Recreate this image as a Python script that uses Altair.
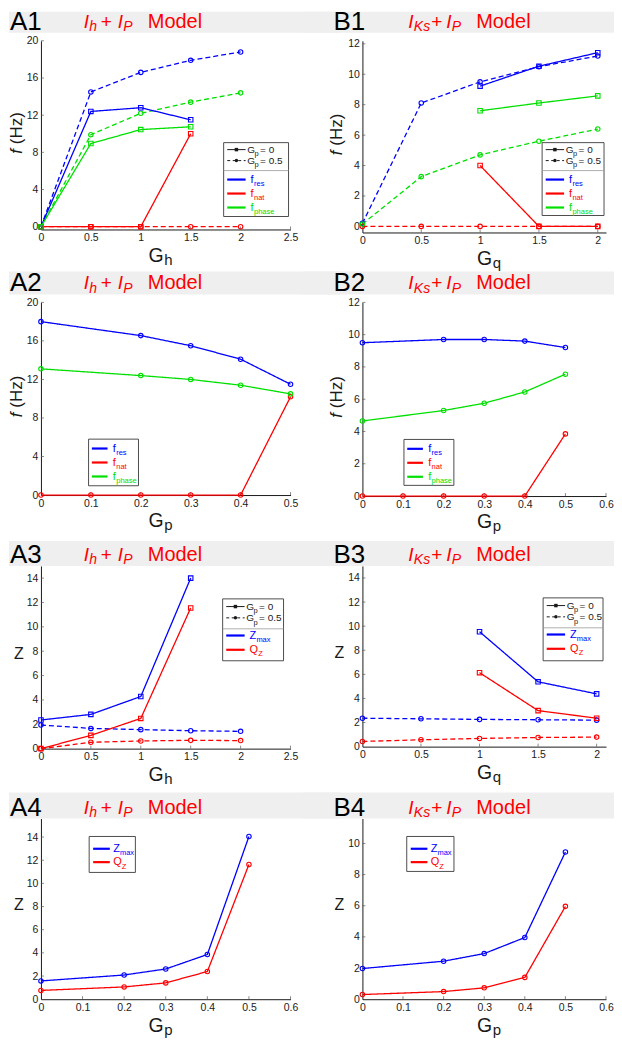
import altair as alt
import pandas as pd

FONT = "Liberation Sans"
BLUE = "#0000FF"
RED = "#FF0000"
GREEN = "#00E000"
BAND = "#EFEFEF"
INK = "#1A1A1A"

# ---------------- data ----------------
GH = [0, 0.5, 1, 1.5, 2]
GQ = [0, 0.5, 1, 1.5, 2]
GQ_HI = [1, 1.5, 2]
GP5 = [0, 0.2, 0.3, 0.4, 0.5]
GP6 = [0, 0.1, 0.2, 0.3, 0.4, 0.5]

A1_FRES_0 = [0, 12.4, 12.8, 11.5]
A1_FRES_05 = [0, 14.5, 16.6, 17.9, 18.8]
A1_FNAT_0 = [0, 0, 0, 10.0]
A1_FNAT_05 = [0, 0, 0, 0, 0]
A1_FPHASE_0 = [0, 8.95, 10.45, 10.75]
A1_FPHASE_05 = [0, 9.9, 12.2, 13.4, 14.4]

B1_FRES_0 = [9.22, 10.53, 11.42]
B1_FRES_05 = [0.2, 8.11, 9.5, 10.5, 11.2]
B1_FNAT_0 = [4.0, 0, 0]
B1_FNAT_05 = [0, 0, 0, 0, 0]
B1_FPHASE_0 = [7.6, 8.11, 8.58]
B1_FPHASE_05 = [0.15, 3.27, 4.7, 5.6, 6.4]

A2_FRES = [18.0, 16.55, 15.5, 14.1, 11.5]
A2_FPHASE = [13.1, 12.4, 12.0, 11.4, 10.5]
A2_FNAT = [0, 0, 0, 0, 0, 10.2]

B2_FRES = [9.5, 9.7, 9.7, 9.6, 9.2]
B2_FPHASE = [4.65, 5.3, 5.75, 6.45, 7.55]
B2_FNAT = [0, 0, 0, 0, 0, 3.85]

A3_ZMAX_0 = [2.35, 2.81, 4.28, 14.0]
A3_ZMAX_05 = [1.94, 1.66, 1.56, 1.47, 1.42]
A3_QZ_0 = [0, 1.09, 2.48, 11.55]
A3_QZ_05 = [0, 0.52, 0.63, 0.68, 0.66]

B3_ZMAX_0 = [9.54, 5.38, 4.38]
B3_ZMAX_05 = [2.36, 2.31, 2.26, 2.23, 2.2]
B3_QZ_0 = [6.14, 2.99, 2.36]
B3_QZ_05 = [0.43, 0.57, 0.68, 0.76, 0.79]

A4_ZMAX = [1.58, 2.09, 2.61, 3.86, 14.05]
A4_QZ = [0.76, 1.06, 1.41, 2.39, 11.63]
B4_ZMAX = [1.97, 2.44, 2.93, 3.96, 9.45]
B4_QZ = [0.3, 0.49, 0.73, 1.4, 5.96]

# tick label values
X_G25 = [0, 0.5, 1, 1.5, 2, 2.5]
X_G2 = [0, 0.5, 1, 1.5, 2]
X_P5 = [0, 0.1, 0.2, 0.3, 0.4, 0.5]
X_P6 = [0, 0.1, 0.2, 0.3, 0.4, 0.5, 0.6]
Y_20 = [0, 4, 8, 12, 16, 20]
Y_12 = [0, 2, 4, 6, 8, 10, 12]
Y_14 = [0, 2, 4, 6, 8, 10, 12, 14]
Y_10 = [0, 2, 4, 6, 8, 10]

LABELS = ["A1", "B1", "A2", "B2", "A3", "B3", "A4", "B4"]

# ---------------- styling helpers ----------------
CSCALE = alt.Scale(domain=["fres", "fnat", "fphase", "zmax", "qz"],
                   range=[BLUE, RED, GREEN, BLUE, RED])
DSCALE = alt.Scale(domain=["s", "d"], range=[[1, 0], [5, 3]])
SSCALE = alt.Scale(domain=["square", "circle"], range=["square", "circle"])
COLORS = {"fres": BLUE, "fnat": RED, "fphase": GREEN, "zmax": BLUE, "qz": RED}
LEG_NAMES = {"fres": ("f", "res", 3.4), "fnat": ("f", "nat", 3.4),
             "fphase": ("f", "phase", 3.4), "zmax": ("Z", "max", 6.8),
             "qz": ("Q", "Z", 8.6)}

one = pd.DataFrame({"k": [0]})


def txt(s, x, y, size, color=INK, style="normal", align="left",
        baseline="alphabetic", angle=None):
    kw = dict(text=s, font=FONT, fontSize=size, color=color, fontStyle=style,
              align=align, baseline=baseline)
    if angle is not None:
        kw["angle"] = angle
    return alt.Chart(one).mark_text(**kw).encode(x=alt.value(x), y=alt.value(y))


def rule(x1, y1, x2, y2, color, width=1.0, dash=None):
    kw = dict(color=color, strokeWidth=width)
    if dash is not None:
        kw["strokeDash"] = dash
    return alt.Chart(one).mark_rule(**kw).encode(
        x=alt.value(x1), x2=alt.value(x2), y=alt.value(y1), y2=alt.value(y2))


def box(x1, y1, x2, y2, fill, stroke=None, sw=0.0):
    kw = dict(fill=fill)
    if stroke is not None:
        kw.update(stroke=stroke, strokeWidth=sw)
    return alt.Chart(one).mark_rect(**kw).encode(
        x=alt.value(x1), x2=alt.value(x2), y=alt.value(y1), y2=alt.value(y2))


def dot(x, y, shape, size):
    return alt.Chart(one).mark_point(shape=shape, filled=True, size=size,
                                     color=INK, opacity=1).encode(
        x=alt.value(x), y=alt.value(y))


def legend(x0, y0, bw, bh, style_rows, color_rows, sep=None, lx=(3.6, 22.0), tx=27.0):
    L = [box(x0, y0, x0 + bw, y0 + bh, "white", "#3a3a3a", 0.9)]
    if sep is not None:
        L.append(rule(x0, y0 + sep, x0 + bw, y0 + sep, "#9a9a9a", 0.8))
    for dy, dashed, shape, val in style_rows:
        yy = y0 + dy
        L.append(rule(x0 + lx[0], yy, x0 + lx[1], yy, INK, 1.0, [3, 2.5] if dashed else None))
        L.append(dot(x0 + (lx[0] + lx[1]) / 2, yy, shape, 12))
        L.append(txt("G", x0 + 23.7, yy + 3.5, 10))
        L.append(txt("p", x0 + 31.0, yy + 6.8, 7.5))
        L.append(txt("= " + val, x0 + 36.5, yy + 3.5, 10))
    for dy, key in color_rows:
        yy = y0 + dy
        main, sub, wm = LEG_NAMES[key]
        c = COLORS[key]
        L.append(rule(x0 + lx[0], yy, x0 + lx[1], yy, c, 2.2))
        L.append(txt(main, x0 + tx, yy + 3.2, 11, c))
        L.append(txt(sub, x0 + tx + wm, yy + 6.6, 7.5, c))
    return L


TITLE_A = [("I", 43, 19, True, False), ("h", 48.5, 14, True, True),
           ("+", 60, 19, False, False), ("I", 77, 19, True, False),
           ("P", 82.5, 14, True, True), ("Model", 107, 20, False, False)]
TITLE_B = [("I", 46, 19, True, False), ("Ks", 51.5, 14, True, True),
           ("+", 69, 19, False, False), ("I", 84, 19, True, False),
           ("P", 89.5, 14, True, True), ("Model", 114, 20, False, False)]


def panel(rows, xdom, ydom, xt, yt, w, h, side, label, band_tb, ylab, xsub, leg):
    xs = alt.Scale(domain=xdom, nice=False, zero=False)
    ys = alt.Scale(domain=ydom, nice=False, zero=False)
    xax = alt.Axis(values=xt, format=".2~f", title=None)
    yax = alt.Axis(values=yt, format=".2~f", title=None)
    X = alt.X("x:Q", scale=xs, axis=xax, title=None)
    Y = alt.Y("y:Q", scale=ys, axis=yax, title=None)

    recs = []
    for xv_list, yv_list, s, g, m in rows:
        for xv, yv in zip(xv_list, yv_list):
            recs.append({"x": xv, "y": yv, "s": s, "g": g, "m": m, "k": s + g})
    df = pd.DataFrame(recs)

    layers = []
    bt, bb = band_tb
    if side == "A":
        layers.append(box(-32, bt, 300, bb, BAND))
        layers.append(txt(label, -31, bb - 3, 26, "black"))
        pieces = TITLE_A
    else:
        layers.append(box(-60, bt, w + 8, bb, BAND))
        layers.append(txt(label, -29, bb - 3, 26, "black"))
        pieces = TITLE_B
    for s, dx, size, ital, sub in pieces:
        layers.append(txt(s, dx, bb - 1.5 if sub else bb - 5, size, RED,
                          "italic" if ital else "normal"))

    # small inward ticks
    ytk = pd.DataFrame({"y": [v for v in yt if v > ydom[0]]})
    layers.append(alt.Chart(ytk).mark_rule(color="#555555", strokeWidth=0.7).encode(
        y=Y, x=alt.value(0), x2=alt.value(3)))
    xtk = pd.DataFrame({"x": [v for v in xt if v > xdom[0]]})
    layers.append(alt.Chart(xtk).mark_rule(color="#555555", strokeWidth=0.7).encode(
        x=X, y=alt.value(h), y2=alt.value(h - 3)))

    base = alt.Chart(df)
    layers.append(base.mark_line(strokeWidth=1.3).encode(
        x=X, y=Y,
        color=alt.Color("s:N", scale=CSCALE, legend=None),
        strokeDash=alt.StrokeDash("g:N", scale=DSCALE, legend=None),
        detail="k:N"))
    layers.append(base.mark_point(filled=False, size=20, strokeWidth=1.1, opacity=1).encode(
        x=X, y=Y,
        color=alt.Color("s:N", scale=CSCALE, legend=None),
        shape=alt.Shape("m:N", scale=SSCALE, legend=None)))

    # y title
    if ylab == "f":
        xx = -23.5 if side == "A" else -25
        c = 0.49 * h
        layers.append(txt("f", xx, c + 20.5, 17, INK, "italic", "left", "middle", 270))
        layers.append(txt("(Hz)", xx, c + 11, 17, INK, "normal", "left", "middle", 270))
    else:
        xx = -22 if side == "A" else -23
        layers.append(txt("Z", xx, 0.48 * h, 16, INK, "normal", "center", "middle"))

    # x title with subscript
    gx = 123 if side == "A" else 130
    layers.append(txt("G", gx, h + 32.5, 19.5, INK, align="right"))
    layers.append(txt(xsub, gx + 0.5, h + 35.5, 15, INK))

    layers.extend(leg)
    return alt.layer(*layers).properties(width=w, height=h)


WA, WB = 250, 244
STYLE_ROWS_1 = [(7, False, "square", "0"), (18, True, "circle", "0.5")]
STYLE_ROWS_3 = [(7.7, False, "square", "0"), (19, True, "circle", "0.5")]
F_ROWS_1 = [(37, "fres"), (51, "fnat"), (65, "fphase")]
F_ROWS_2 = [(9.4, "fres"), (23.4, "fnat"), (37.4, "fphase")]
Z_ROWS_3 = [(36.7, "zmax"), (51, "qz")]
Z_ROWS_4 = [(12.3, "zmax"), (25.7, "qz")]

ROW0, ROW1, ROW2, ROW3 = (-29, -8), (-31, -8), (-25, 0), (-26, 0)

pA1 = panel([
    (GH, A1_FRES_05, "fres", "d", "circle"),
    (GH, A1_FNAT_05, "fnat", "d", "circle"),
    (GH, A1_FPHASE_05, "fphase", "d", "circle"),
    (GH[:4], A1_FRES_0, "fres", "s", "square"),
    (GH[:4], A1_FNAT_0, "fnat", "s", "square"),
    (GH[:4], A1_FPHASE_0, "fphase", "s", "square"),
], [0, 2.5], [-0.3, 20], X_G25, Y_20, WA, 189, "A", LABELS[0], ROW0, "f", "h",
    legend(WA - 67, 102, 65, 74, STYLE_ROWS_1, F_ROWS_1, sep=28))

pB1 = panel([
    (GQ, B1_FRES_05, "fres", "d", "circle"),
    (GQ, B1_FNAT_05, "fnat", "d", "circle"),
    (GQ, B1_FPHASE_05, "fphase", "d", "circle"),
    (GQ_HI, B1_FRES_0, "fres", "s", "square"),
    (GQ_HI, B1_FNAT_0, "fnat", "s", "square"),
    (GQ_HI, B1_FPHASE_0, "fphase", "s", "square"),
], [0, 2.07], [-0.4, 12.2], X_G2, Y_12, WB, 192, "B", LABELS[1], ROW0, "f", "q",
    legend(WB - 64, 102, 62, 73, STYLE_ROWS_1, F_ROWS_1, sep=28))

pA2 = panel([
    (GP5, A2_FRES, "fres", "s", "circle"),
    (GP6, A2_FNAT, "fnat", "s", "circle"),
    (GP5, A2_FPHASE, "fphase", "s", "circle"),
], [0, 0.5], [0, 20], X_P5, Y_20, WA, 193, "A", LABELS[2], ROW1, "f", "p",
    legend(47.7, 137, 50, 46.7, [], F_ROWS_2, lx=(3.3, 19), tx=24.3))

pB2 = panel([
    (GP5, B2_FRES, "fres", "s", "circle"),
    (GP6, B2_FNAT, "fnat", "s", "circle"),
    (GP5, B2_FPHASE, "fphase", "s", "circle"),
], [0, 0.6], [0, 12], X_P6, Y_12, WB, 194, "B", LABELS[3], ROW1, "f", "p",
    legend(41.6, 137.3, 50, 46, [], F_ROWS_2, lx=(3.3, 19), tx=24.3))

pA3 = panel([
    (GH, A3_ZMAX_05, "zmax", "d", "circle"),
    (GH, A3_QZ_05, "qz", "d", "circle"),
    (GH[:4], A3_ZMAX_0, "zmax", "s", "square"),
    (GH[:4], A3_QZ_0, "qz", "s", "square"),
], [0, 2.5], [0, 15], X_G25, Y_14, WA, 183, "A", LABELS[4], ROW2, "Z", "h",
    legend(WA - 68, 33, 61, 62, STYLE_ROWS_3, Z_ROWS_3, sep=30))

pB3 = panel([
    (GQ, B3_ZMAX_05, "zmax", "d", "circle"),
    (GQ, B3_QZ_05, "qz", "d", "circle"),
    (GQ_HI, B3_ZMAX_0, "zmax", "s", "square"),
    (GQ_HI, B3_QZ_0, "qz", "s", "square"),
], [0, 2.08], [0, 15], X_G2, Y_14, WB, 181, "B", LABELS[5], ROW2, "Z", "q",
    legend(WB - 63, 32, 60, 63, STYLE_ROWS_3, Z_ROWS_3, sep=30))

pA4 = panel([
    (GP5, A4_ZMAX, "zmax", "s", "circle"),
    (GP5, A4_QZ, "qz", "s", "circle"),
], [0, 0.6], [0, 15.6], X_P6, Y_14, WA, 181, "A", LABELS[6], ROW3, "Z", "p",
    legend(48.3, 18, 46.3, 36, [], Z_ROWS_4, lx=(4, 20.7), tx=24))

pB4 = panel([
    (GP5, B4_ZMAX, "zmax", "s", "circle"),
    (GP5, B4_QZ, "qz", "s", "circle"),
], [0, 0.6], [0, 11.6], X_P6, Y_10, WB, 181, "B", LABELS[7], ROW3, "Z", "p",
    legend(44.4, 18, 47.3, 35, [], Z_ROWS_4, lx=(4, 20.7), tx=24))

chart = alt.concat(
    pA1, pB1, pA2, pB2, pA3, pB3, pA4, pB4,
    columns=2, spacing={"row": 70, "column": 72}, bounds="flush",
).properties(
    padding=0, background="white"
).configure_view(
    stroke=None
).configure_axis(
    domainColor=INK, domainWidth=1, ticks=False, grid=False,
    labelFont=FONT, labelFontSize=10.5, labelColor=INK,
    labelFlush=False, labelOverlap=False,
).configure_axisX(
    labelPadding=3
).configure_axisY(
    labelPadding=3
)

chart.save("out.html", embed_options={"renderer": "svg", "actions": False})
